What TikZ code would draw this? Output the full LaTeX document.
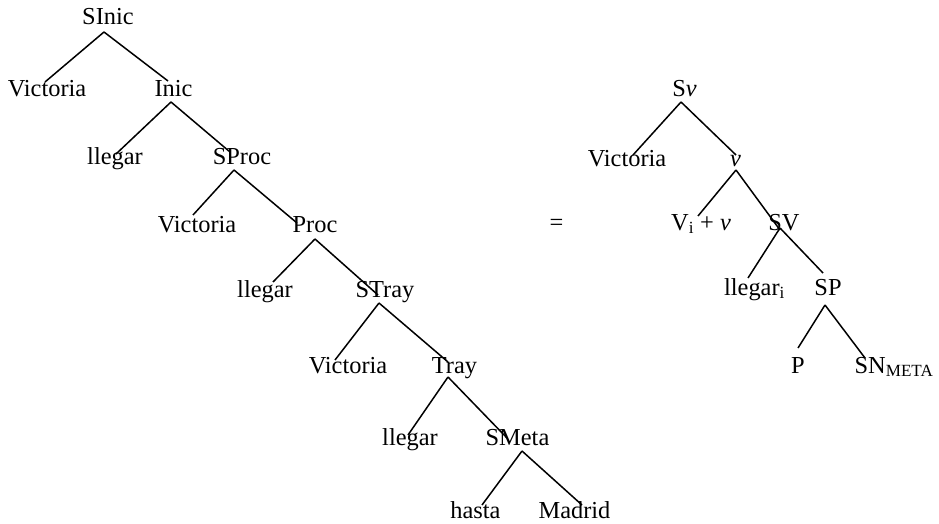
\documentclass[tikz,border=0pt]{standalone}
\usepackage{fontspec}
\setmainfont{Liberation Serif}
\begin{document}
\begin{tikzpicture}[x=1pt,y=-1pt,
  lbl/.style={inner sep=0pt,anchor=base,font=\fontsize{24.4}{28}\selectfont},
  branch/.style={line width=1.5pt}]
\useasboundingbox (0,0) rectangle (939,524);

% left tree: labels
\node[lbl] (sinic)  at (108,25)   {SInic};
\node[lbl] (vic1)   at (47,97)    {Victoria};
\node[lbl] (inic)   at (173.5,97) {Inic};
\node[lbl] (lleg1)  at (115,164)  {llegar};
\node[lbl] (sproc)  at (242,164)  {SProc};
\node[lbl] (vic2)   at (197,232)  {Victoria};
\node[lbl] (proc)   at (315,232)  {Proc};
\node[lbl] (lleg2)  at (265,297)  {llegar};
\node[lbl] (stray)  at (385,297)  {STray};
\node[lbl] (vic3)   at (348,373)  {Victoria};
\node[lbl] (tray)   at (454.5,373){Tray};
\node[lbl] (lleg3)  at (410,445)  {llegar};
\node[lbl] (smeta)  at (517.5,445){SMeta};
\node[lbl] (hasta)  at (475.5,518){hasta};
\node[lbl] (madrid) at (574.5,518){Madrid};

% left tree: branches
\draw[branch] ([shift={(-4,7)}]sinic.base) -- ([shift={(-2,-15)}]vic1.base);
\draw[branch] ([shift={(-4,7)}]sinic.base) -- ([shift={(-5.5,-16)}]inic.base);
\draw[branch] ([shift={(-2.5,5)}]inic.base) -- ([shift={(1,-10)}]lleg1.base);
\draw[branch] ([shift={(-2.5,5)}]inic.base) -- ([shift={(-12,-12)}]sproc.base);
\draw[branch] ([shift={(-8,6)}]sproc.base) -- ([shift={(-4,-17)}]vic2.base);
\draw[branch] ([shift={(-8,6)}]sproc.base) -- ([shift={(-18,-9)}]proc.base);
\draw[branch] ([shift={(0,7)}]proc.base) -- ([shift={(8,-15)}]lleg2.base);
\draw[branch] ([shift={(0,7)}]proc.base) -- ([shift={(-7,-2)}]stray.base);
\draw[branch] ([shift={(-6,6)}]stray.base) -- ([shift={(-13,-13)}]vic3.base);
\draw[branch] ([shift={(-6,6)}]stray.base) -- ([shift={(-6.5,-11)}]tray.base);
\draw[branch] ([shift={(-6.5,4)}]tray.base) -- ([shift={(-2,-10)}]lleg3.base);
\draw[branch] ([shift={(-6.5,4)}]tray.base) -- ([shift={(-10.5,-7)}]smeta.base);
\draw[branch] ([shift={(4.5,6)}]smeta.base) -- ([shift={(6.5,-13)}]hasta.base);
\draw[branch] ([shift={(4.5,6)}]smeta.base) -- ([shift={(7.5,-13)}]madrid.base);

% equals sign
\node[lbl] (eq) at (556.5,230) {=};

% right tree: labels
\node[lbl] (sv)    at (684.5,97) {S\textit{v}};
\node[lbl] (vic4)  at (627,166)  {Victoria};
\node[lbl] (vv)    at (735.5,166){\textit{v}};
\node[lbl] (vi)    at (701,230)  {V\textsubscript{i} + \textit{v}};
\node[lbl] (sV)    at (784,230)  {SV};
\node[lbl] (llegi) at (754.5,295){llegar\textsubscript{i}};
\node[lbl] (sp)    at (828,295)  {SP};
\node[lbl] (p)     at (798,373)  {P};
\node[lbl] (sn)    at (894,373)  {SN\textsubscript{META}};

% right tree: branches
\draw[branch] ([shift={(-3.5,5)}]sv.base) -- ([shift={(6,-11)}]vic4.base);
\draw[branch] ([shift={(-3.5,5)}]sv.base) -- ([shift={(0.5,-11)}]vv.base);
\draw[branch] ([shift={(0.5,4)}]vv.base) -- ([shift={(-3,-14)}]vi.base);
\draw[branch] ([shift={(0.5,4)}]vv.base) -- ([shift={(-4,0)}]sV.base);
\draw[branch] ([shift={(-4,-2)}]sV.base) -- ([shift={(-6.5,-17)}]llegi.base);
\draw[branch] ([shift={(-4,-2)}]sV.base) -- ([shift={(-5,-22)}]sp.base);
\draw[branch] ([shift={(-3,10)}]sp.base) -- ([shift={(0,-25)}]p.base);
\draw[branch] ([shift={(-3,10)}]sp.base) -- ([shift={(-29,-15)}]sn.base);
\end{tikzpicture}
\end{document}
